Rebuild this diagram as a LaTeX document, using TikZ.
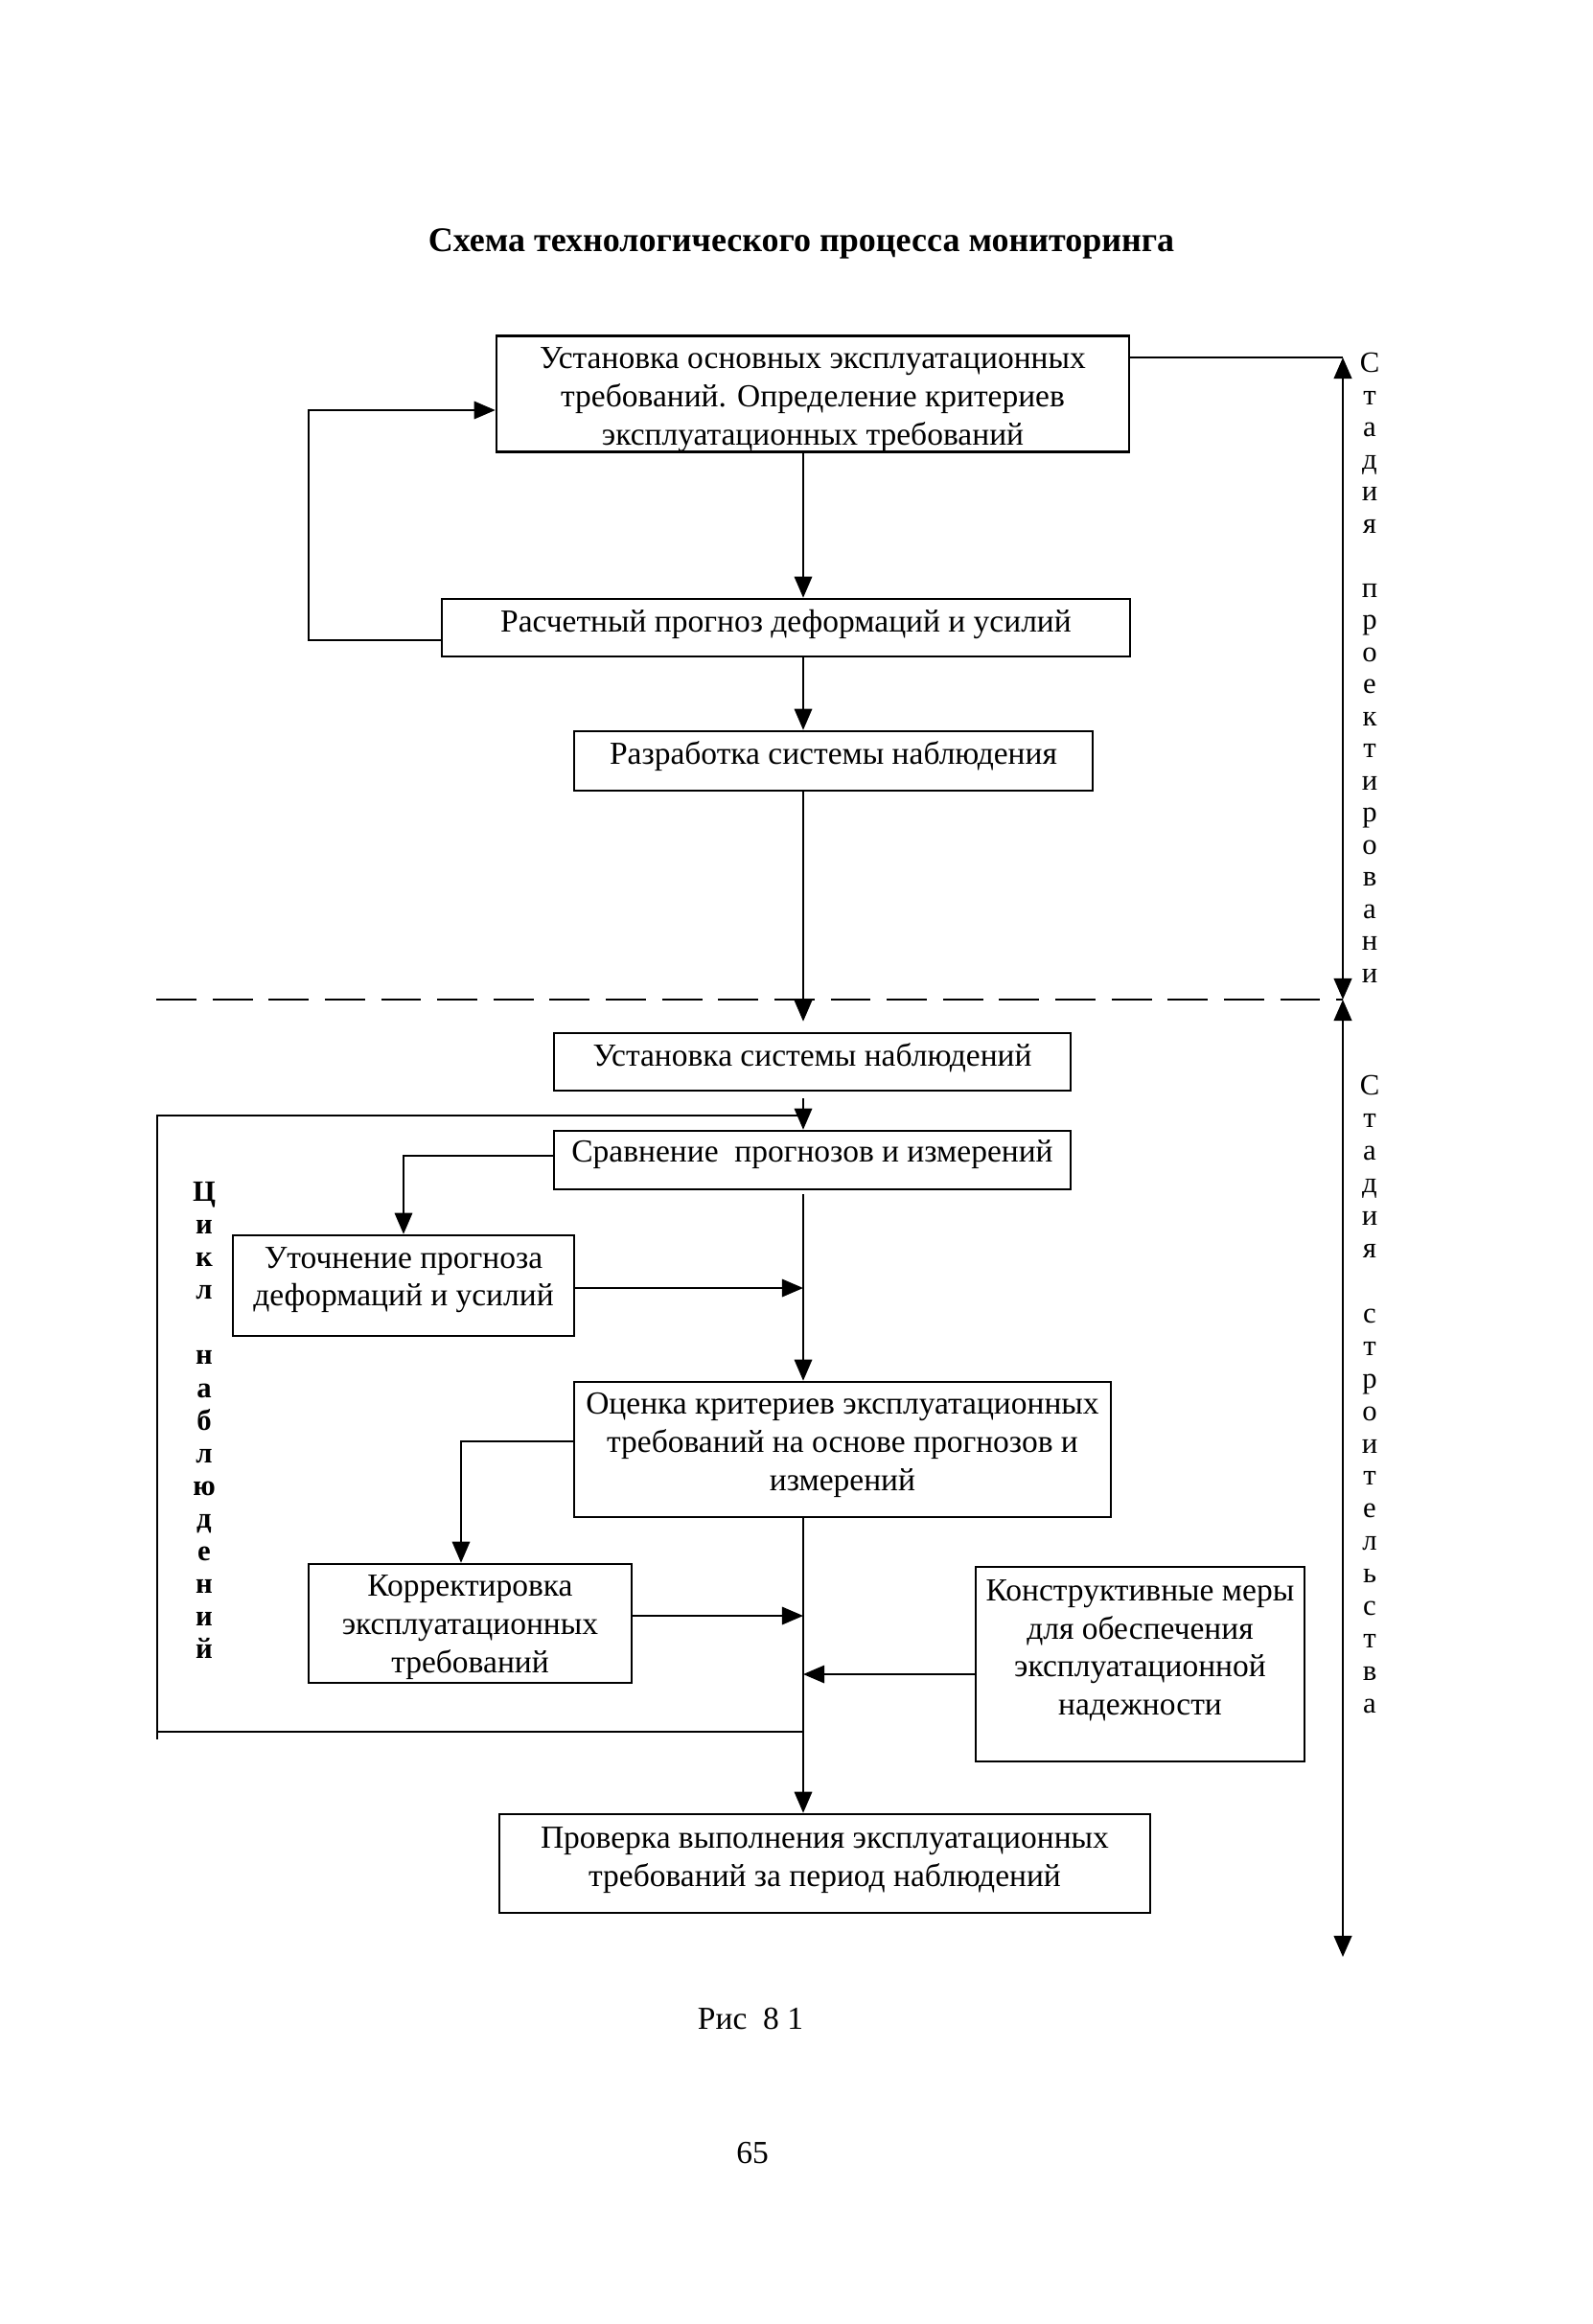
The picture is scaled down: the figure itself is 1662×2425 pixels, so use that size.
\documentclass[tikz,border=0pt]{standalone}
\usepackage{fontspec}
\setmainfont{Liberation Serif}
\usetikzlibrary{arrows.meta}
\newlength\pxu \setlength\pxu{0.3582pt}
\newcommand\dpt[1]{\rule[-#1\pxu]{0pt}{#1\pxu}}
\newcommand\hpt[1]{\rule{0pt}{#1\pxu}}
\begin{document}
\begin{tikzpicture}[x={(0.3582pt,0pt)}, y={(0pt,-0.3582pt)},
  box/.style={draw, line width=0.9pt, inner sep=0pt, align=center, font=\fontsize{12}{14.2}\selectfont},
  arr/.style={line width=0.7pt, -{Triangle[length=7.9pt,width=6.6pt]}},
  ln/.style={line width=0.7pt},
  dbl/.style={line width=1pt, {Triangle[length=7.9pt,width=6.6pt]}-{Triangle[length=7.9pt,width=6.6pt]}},
  vtxt/.style={inner sep=0pt, anchor=north, align=center}
]
\useasboundingbox (0,0) rectangle (1662,2425);
\fill[white] (0,0) rectangle (1662,2425);

\node[anchor=base, font=\bfseries\fontsize{12.9}{15}\selectfont] (title) at (836,262) {Схема технологического процесса мониторинга};

\coordinate (sp) at (838,0);

\node[box, minimum width=660\pxu, minimum height=116\pxu] (b1) at (848,411) {\hpt{34}Установка основных эксплуатационных\\требований. Определение критериев\\эксплуатационных требований};
\node[box, minimum width=718\pxu, minimum height=60\pxu] (b2) at (820,655) {Расчетный прогноз деформаций и усилий\dpt{15}};
\node[box, minimum width=541\pxu, minimum height=62\pxu] (b3) at (869.5,794) {Разработка системы наблюдения\dpt{17}};
\node[box, minimum width=539\pxu, minimum height=60\pxu] (b4) at (847.5,1108) {Установка системы наблюдений\dpt{15}};
\node[box, minimum width=539\pxu, minimum height=61\pxu] (b5) at (847.5,1210.5) {Сравнение\ \ прогнозов и измерений\dpt{18}};
\node[box, minimum width=356\pxu, minimum height=105\pxu] (b6) at (421,1341.5) {Уточнение прогноза\\деформаций и усилий\dpt{19}};
\node[box, minimum width=560\pxu, minimum height=141\pxu] (b7) at (879,1512.5) {Оценка критериев эксплуатационных\\требований на основе прогнозов и\\измерений\dpt{16}};
\node[box, minimum width=337\pxu, minimum height=124\pxu] (b8) at (490.5,1694) {\hpt{30}Корректировка\\эксплуатационных\\требований};
\node[box, minimum width=343\pxu, minimum height=203\pxu] (b9) at (1189.5,1736.5) {Конструктивные меры\\для обеспечения\\эксплуатационной\\надежности\dpt{35}};
\node[box, minimum width=679\pxu, minimum height=103\pxu] (b10) at (860.5,1944.5) {Проверка выполнения эксплуатационных\\требований за период наблюдений\dpt{14}};

% spine
\draw[arr] (b1.south -| sp) -- (b2.north -| sp);
\draw[arr] (b2.south -| sp) -- (b3.north -| sp);
\draw[arr, shorten >=11\pxu] (b3.south -| sp) -- (b4.north -| sp);
\draw[arr, shorten <=7\pxu] (b4.south -| sp) -- (b5.north -| sp);
\draw[arr, shorten <=4\pxu] (b5.south -| sp) -- (b7.north -| sp);
\draw[arr] (b7.south -| sp) -- (b10.north -| sp);

% side branches
\draw[arr] ([yshift=4.5\pxu]b5.west) -| (b6.north);
\draw[arr] ([yshift=-2.5\pxu]b6.east) -- ([yshift=-2.5\pxu]b6.east -| sp);
\draw[arr] ([yshift=8.5\pxu]b7.west) -| ([xshift=-9.5\pxu]b8.north);
\draw[arr] ([yshift=8\pxu]b8.east) -- ([yshift=8\pxu]b8.east -| sp);
\draw[arr] ([yshift=-10.5\pxu]b9.west) -- ([yshift=-10.5\pxu]b9.west -| sp);

% left feedback loop at top
\coordinate (lx) at (322,428);
\draw[arr] ([yshift=-13\pxu]b2.west) -| (lx) |- ([yshift=-17\pxu]b1.west);

% right stage line
\coordinate (r1) at (1401,373);
\coordinate (r2) at (1401,1043);
\coordinate (r3) at (1401,2042);
\draw[ln] ([yshift=38\pxu]b1.east) -- ([yshift=38\pxu]b1.east -| r1);
\draw[dbl] (r1) -- (r2);
\draw[dbl] (r2) -- (r3);

% dashed stage border
\coordinate (dl) at (163,1043);
\draw[line width=0.8pt, dash pattern=on 15pt off 6pt] (dl) -- (r2);

% observation cycle frame
\coordinate (lt) at (164,1164);
\coordinate (lb) at (164,1807);
\draw[line width=0.8pt] (lt -| sp) -- (lt) -- ([yshift=-8\pxu]lb);
\draw[line width=0.8pt] (lb) -- (lb -| sp);

% vertical labels
\node[vtxt, font=\fontsize{11}{12}\selectfont] (vp) at (1429,368) {С\\т\\а\\д\\и\\я\\\mbox{}\\п\\р\\о\\е\\к\\т\\и\\р\\о\\в\\а\\н\\и};
\node[vtxt, font=\fontsize{11}{12.15}\selectfont] (vs) at (1429,1122) {С\\т\\а\\д\\и\\я\\\mbox{}\\с\\т\\р\\о\\и\\т\\е\\л\\ь\\с\\т\\в\\а};
\node[vtxt, font=\bfseries\fontsize{11}{12.2}\selectfont] (vc) at (213,1233) {Ц\\и\\к\\л\\\mbox{}\\н\\а\\б\\л\\ю\\д\\е\\н\\и\\й};

\node[anchor=base, font=\fontsize{12}{14}\selectfont] (fig) at (783,2117) {Рис\ \ 8 1};
\node[anchor=base, font=\fontsize{12}{14}\selectfont] (page) at (785,2257) {65};
\end{tikzpicture}
\end{document}
